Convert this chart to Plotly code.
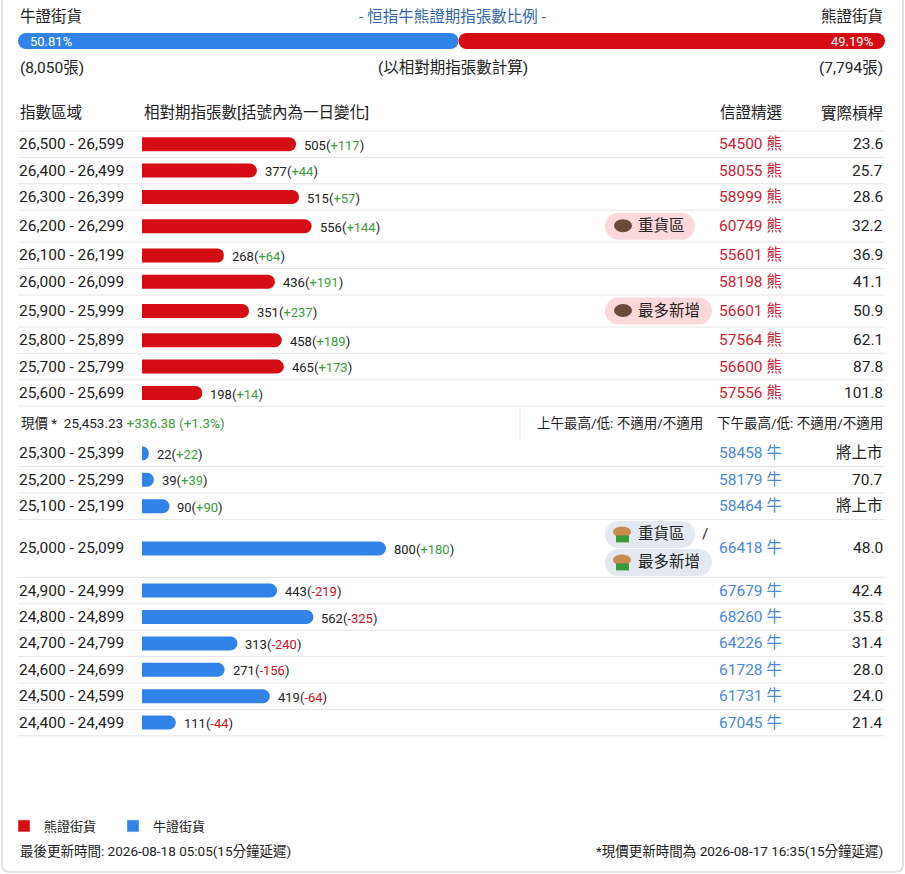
import plotly.graph_objects as go

# =========================
# 0. DATA
# =========================
BULL_TOTAL = 8050
BEAR_TOTAL = 7794

bear_ranges = ["26,500 - 26,599", "26,400 - 26,499", "26,300 - 26,399", "26,200 - 26,299",
               "26,100 - 26,199", "26,000 - 26,099", "25,900 - 25,999", "25,800 - 25,899",
               "25,700 - 25,799", "25,600 - 25,699"]
bear_qty = [505, 377, 515, 556, 268, 436, 351, 458, 465, 198]
bear_chg = [117, 44, 57, 144, 64, 191, 237, 189, 173, 14]
bear_code = ["54500", "58055", "58999", "60749", "55601", "58198", "56601", "57564", "56600", "57556"]
bear_lev = ["23.6", "25.7", "28.6", "32.2", "36.9", "41.1", "50.9", "62.1", "87.8", "101.8"]
bear_badges = [[], [], [], ["重貨區"], [], [], ["最多新增"], [], [], []]

bull_ranges = ["25,300 - 25,399", "25,200 - 25,299", "25,100 - 25,199", "25,000 - 25,099",
               "24,900 - 24,999", "24,800 - 24,899", "24,700 - 24,799", "24,600 - 24,699",
               "24,500 - 24,599", "24,400 - 24,499"]
bull_qty = [22, 39, 90, 800, 443, 562, 313, 271, 419, 111]
bull_chg = [22, 39, 90, 180, -219, -325, -240, -156, -64, -44]
bull_code = ["58458", "58179", "58464", "66418", "67679", "68260", "64226", "61728", "61731", "67045"]
bull_lev = ["將上市", "70.7", "將上市", "48.0", "42.4", "35.8", "31.4", "28.0", "24.0", "21.4"]
bull_badges = [[], [], [], ["重貨區", "最多新增"], [], [], [], [], [], []]

price_now = "25,453.23"
price_chg = "+336.38 (+1.3%)"
am_hilo = "不適用/不適用"
pm_hilo = "不適用/不適用"
last_update = "2026-08-18 05:05"
price_update = "2026-08-17 16:35"

# =========================
# 1. STYLE / GEOMETRY (pixels)
# =========================
W, H = 905, 874
LEFT, RIGHT = 18, 885
BAR_X0 = 142
PX_PER_UNIT = 0.305
BAR_THICK = 14
ROW_H = 26.4
BADGE_ROW_H = 32
DOUBLE_ROW_H = 58
PRICE_ROW_H = 34
TABLE_TOP = 131
CODE_X = 718
BADGE_X = 605

RED = "#d40d14"
BLUE = "#3283e8"
GREEN = "#3b9c3b"
NEG = "#d0101a"
CODE_RED = "#cc2230"
CODE_BLUE = "#4a88da"
TITLE_BLUE = "#3467ad"
TXT = "#222222"
GRID = "#e6e6e6"
FONT = "Roboto, 'Noto Sans CJK TC', sans-serif"
FS = 15.5       # main text size
FS_SMALL = 13.5  # price row / footer


def row_heights(badges):
    return [ROW_H if not b else (BADGE_ROW_H if len(b) == 1 else DOUBLE_ROW_H) for b in badges]


def centers(top, heights):
    c, edges, y = [], [], top
    for h in heights:
        c.append(y + h / 2)
        y += h
        edges.append(y)
    return c, edges, y


bear_y, bear_edges, y_end = centers(TABLE_TOP, row_heights(bear_badges))
price_top = y_end
price_y = price_top + PRICE_ROW_H / 2
bull_y, bull_edges, table_end = centers(price_top + PRICE_ROW_H, row_heights(bull_badges))

# =========================
# 2. TRACES
# =========================
fig = go.Figure()

fig.add_trace(go.Bar(
    x=bear_qty, y=bear_y, width=BAR_THICK, orientation="h", showlegend=False,
    marker=dict(color=RED, cornerradius=7, line=dict(width=0)), hoverinfo="skip"
))
fig.add_trace(go.Bar(
    x=bull_qty, y=bull_y, width=BAR_THICK, orientation="h", showlegend=False,
    marker=dict(color=BLUE, cornerradius=7, line=dict(width=0)), hoverinfo="skip"
))
# legend entries (square swatches)
fig.add_trace(go.Bar(x=[None], y=[None], name="熊證街貨", marker=dict(color=RED)))
fig.add_trace(go.Bar(x=[None], y=[None], name="牛證街貨", marker=dict(color=BLUE)))

bull_pct = BULL_TOTAL / (BULL_TOTAL + BEAR_TOTAL) * 100
bear_pct = 100 - bull_pct
# ratio bar: both halves start from the split point so each rounds its outer end
fig.add_trace(go.Bar(
    x=[-bull_pct], base=[bull_pct], y=[41], width=16, orientation="h", xaxis="x2",
    marker=dict(color=BLUE, cornerradius=8, line=dict(width=0)), showlegend=False, hoverinfo="skip"
))
fig.add_trace(go.Bar(
    x=[bear_pct], base=[bull_pct], y=[41], width=16, orientation="h", xaxis="x2",
    marker=dict(color=RED, cornerradius=8, line=dict(width=0)), showlegend=False, hoverinfo="skip"
))

# =========================
# 3. TEXT
# =========================
ann = []


def text(x, y, s, size=FS, color=TXT, anchor="left"):
    ann.append(dict(x=x / W, y=y, xref="paper", yref="y", text=s, showarrow=False,
                    xanchor=anchor, yanchor="middle", font=dict(size=size, color=color)))


text(LEFT, 17, "牛證街貨")
text(W / 2, 17, "- 恒指牛熊證期指張數比例 -", color=TITLE_BLUE, anchor="center")
text(RIGHT, 17, "熊證街貨", anchor="right")
text(LEFT + 10, 41, f"{bull_pct:.2f}%", size=13, color="white")
text(RIGHT - 10, 41, f"{bear_pct:.2f}%", size=13, color="white", anchor="right")
text(LEFT, 68, f"({BULL_TOTAL:,}張)")
text(W / 2, 68, "(以相對期指張數計算)", anchor="center")
text(RIGHT, 68, f"({BEAR_TOTAL:,}張)", anchor="right")

text(LEFT, 113, "指數區域")
text(BAR_X0, 113, "相對期指張數[括號內為一日變化]")
text(CODE_X, 113, "信證精選")
text(RIGHT, 113, "實際槓桿", anchor="right")


def chg_html(v):
    col = GREEN if v >= 0 else NEG
    return f"<span style='color:{col}'>{v:+d}</span>"


def table_rows(ys, ranges, qty, chg, code, lev, tag, code_col):
    for y, r, q, c, cd, lv in zip(ys, ranges, qty, chg, code, lev):
        text(LEFT - 1, y, r)
        ann.append(dict(x=q, y=y + 1, xref="x", yref="y", text=f"{q}({chg_html(c)})",
                        showarrow=False, xanchor="left", yanchor="middle", xshift=6,
                        font=dict(size=13, color=TXT)))
        text(CODE_X - 1, y, f"{cd} {tag}", color=code_col)
        text(RIGHT, y, lv, anchor="right")


table_rows(bear_y, bear_ranges, bear_qty, bear_chg, bear_code, bear_lev, "熊", CODE_RED)
table_rows(bull_y, bull_ranges, bull_qty, bull_chg, bull_code, bull_lev, "牛", CODE_BLUE)

text(LEFT + 1, price_y,
     f"現價 *  {price_now} <span style='color:{GREEN}'>{price_chg}</span>", size=FS_SMALL)
text(535, price_y, f"上午最高/低: {am_hilo}", size=FS_SMALL)
text(RIGHT, price_y, f"下午最高/低: {pm_hilo}", size=FS_SMALL, anchor="right")

text(LEFT, 851, f"最後更新時間: {last_update}(15分鐘延遲)", size=FS_SMALL)
text(RIGHT, 851, f"*現價更新時間為 {price_update}(15分鐘延遲)", size=FS_SMALL, anchor="right")

# =========================
# 4. SHAPES (lines, badges, card)
# =========================
shapes = []


def hline(y):
    shapes.append(dict(type="line", xref="paper", yref="y", x0=LEFT / W, x1=RIGHT / W,
                       y0=y, y1=y, line=dict(color=GRID, width=1)))


def pill(x0, x1, yc, h, color):
    r = h / 2
    k = 0.5523 * r
    y0, y1 = yc - r, yc + r
    p = lambda x, y: f"{x / W:.5f},{y:.2f}"
    path = (f"M{p(x0 + r, y0)} L{p(x1 - r, y0)} "
            f"C{p(x1 - r + k, y0)} {p(x1, yc - k)} {p(x1, yc)} "
            f"C{p(x1, yc + k)} {p(x1 - r + k, y1)} {p(x1 - r, y1)} "
            f"L{p(x0 + r, y1)} "
            f"C{p(x0 + r - k, y1)} {p(x0, yc + k)} {p(x0, yc)} "
            f"C{p(x0, yc - k)} {p(x0 + r - k, y0)} {p(x0 + r, y0)} Z")
    shapes.append(dict(type="path", xref="paper", yref="y", path=path,
                       fillcolor=color, line=dict(width=0), layer="below"))


def badge(label, yc, bear):
    width = 90 if len(label) == 3 else 107
    pill(BADGE_X, BADGE_X + width, yc, 27, "#fbd9da" if bear else "#e3e8f1")
    # small animal icon
    if bear:
        shapes.append(dict(type="circle", xref="paper", yref="y", x0=614 / W, x1=632 / W,
                           y0=yc - 7, y1=yc + 6, fillcolor="#6b4a3b", line=dict(width=0)))
    else:
        shapes.append(dict(type="circle", xref="paper", yref="y", x0=613 / W, x1=631 / W,
                           y0=yc - 8, y1=yc + 3, fillcolor="#c98b4e", line=dict(width=0)))
        shapes.append(dict(type="rect", xref="paper", yref="y", x0=616 / W, x1=629 / W,
                           y0=yc + 1, y1=yc + 8, fillcolor="#3a9a3a", line=dict(width=0)))
    text(636, yc, label)


hline(TABLE_TOP)
for e in bear_edges + bull_edges:
    hline(e)

shapes.append(dict(type="line", xref="paper", yref="y", x0=520 / W, x1=520 / W,
                   y0=price_top, y1=price_top + PRICE_ROW_H, line=dict(color=GRID, width=1)))

for y, b in zip(bear_y, bear_badges):
    for lab in b:
        badge(lab, y, True)
for y, b in zip(bull_y, bull_badges):
    if len(b) == 2:
        badge(b[0], y - 14, False)
        text(700, y - 14, "/")
        badge(b[1], y + 14, False)
    elif len(b) == 1:
        badge(b[0], y, False)

# card outline
card = (f"M{2 / W:.5f},-5 L{2 / W:.5f},864 C{2 / W:.5f},869 {5 / W:.5f},872 {10 / W:.5f},872 "
        f"L{895 / W:.5f},872 C{900 / W:.5f},872 {903 / W:.5f},869 {903 / W:.5f},864 L{903 / W:.5f},-5")
shapes.append(dict(type="path", xref="paper", yref="y", path=card,
                   line=dict(color="#e2e2e2", width=2)))

# =========================
# 5. LAYOUT
# =========================
fig.update_layout(
    width=W, height=H,
    margin=dict(l=0, r=0, t=0, b=0),
    paper_bgcolor="white", plot_bgcolor="rgba(0,0,0,0)",
    barmode="overlay", hovermode=False,
    font=dict(family=FONT, size=FS, color=TXT),
    xaxis=dict(range=[-BAR_X0 / PX_PER_UNIT, (W - BAR_X0) / PX_PER_UNIT], domain=[0, 1],
               visible=False, fixedrange=True),
    xaxis2=dict(range=[0, 100], domain=[LEFT / W, RIGHT / W], anchor="y",
                visible=False, fixedrange=True),
    yaxis=dict(range=[H, 0], domain=[0, 1], visible=False, fixedrange=True),
    showlegend=True,
    legend=dict(orientation="h", x=4 / W, y=1 - 811 / H, xanchor="left", yanchor="top",
                entrywidth=64, entrywidthmode="pixels",
                font=dict(size=13, color=TXT), bgcolor="rgba(0,0,0,0)"),
    annotations=ann,
    shapes=shapes,
)

fig.write_html("out.html", config={"displayModeBar": False},
               post_script="document.body.style.margin='0';")
